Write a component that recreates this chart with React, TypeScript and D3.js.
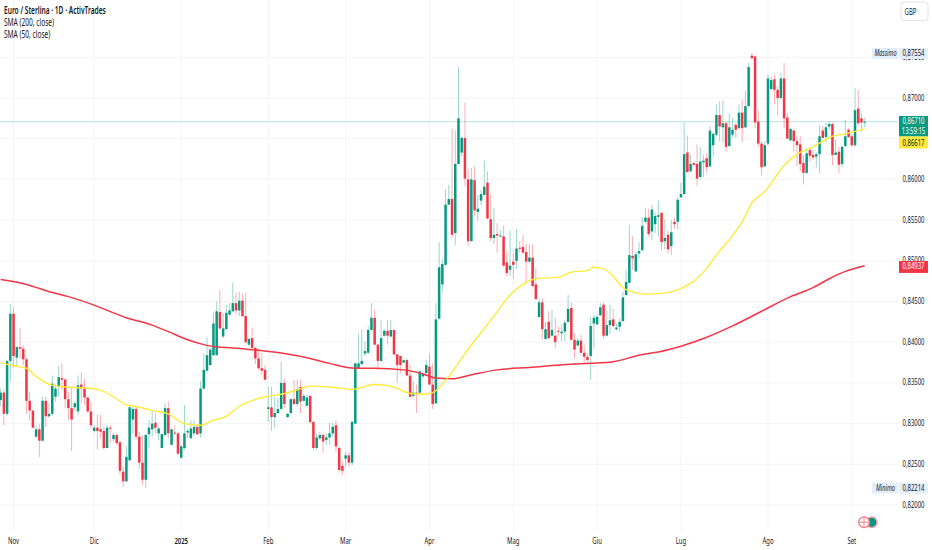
import * as d3 from "d3"

type Bar = [number, number, number, number] // open, high, low, close in pips

const barsOct: Bar[] = [
  [8329,8343,8321,8338],[8338,8342,8298,8312],[8312,8378,8310,8377],[8377,8447,8352,8435],[8435,8443,8369,8383],
  [8381,8395,8370,8394],[8394,8417,8380,8392],[8392,8396,8372,8379],[8379,8381,8312,8328],[8328,8339,8304,8316],
  [8316,8316,8294,8295],[8284,8298,8282,8293],[8293,8300,8259,8279],[8279,8333,8278,8328],[8328,8333,8296,8309],
  [8309,8325,8307,8312],[8312,8359,8310,8349],[8333,8348,8327,8343],[8345,8371,8333,8357],[8356,8374,8341,8354],
  [8354,8356,8319,8330],[8330,8339,8304,8319],[8319,8345,8266,8305],[8320,8327,8315,8325],[8315,8359,8310,8347],
  [8348,8363,8325,8343],[8343,8355,8323,8332],[8332,8333,8313,8315],[8315,8326,8294,8298],
]
const barsDic: Bar[] = [
  [8291,8298,8289,8295],[8295,8311,8268,8291],[8293,8311,8282,8290],[8291,8296,8268,8270],[8270,8298,8270,8295],
  [8295,8298,8276,8294],[8281,8288,8278,8286],[8286,8288,8274,8276],[8277,8280,8237,8242],[8241,8247,8222,8229],
  [8229,8272,8229,8259],[8255,8322,8253,8320],[8305,8321,8288,8318],[8318,8321,8280,8284],[8284,8290,8244,8252],
  [8252,8286,8225,8231],[8231,8288,8221,8286],[8287,8304,8270,8295],[8293,8315,8284,8300],[8301,8313,8288,8295],
  [8288,8296,8280,8294],[8270,8288,8270,8287],[8286,8325,8285,8319],[8319,8327,8282,8288],[8274,8294,8273,8293],
  [8289,8298,8286,8288],[8288,8290,8261,8263],
]
const barsGen: Bar[] = [
  [8258,8274,8257,8272],[8270,8323,8268,8288],[8289,8293,8282,8291],[8282,8304,8281,8294],[8288,8304,8286,8296],
  [8296,8298,8286,8287],[8288,8352,8283,8343],[8343,8386,8342,8366],[8365,8405,8364,8384],[8372,8393,8371,8391],
  [8384,8436,8383,8423],[8384,8450,8384,8438],[8437,8464,8415,8417],[8407,8436,8405,8417],[8416,8446,8416,8436],
  [8434,8448,8432,8439],[8438,8473,8437,8448],[8448,8461,8434,8439],[8439,8462,8432,8451],[8451,8460,8431,8432],
  [8432,8461,8399,8400],[8397,8405,8395,8404],[8405,8418,8391,8393],[8393,8394,8373,8380],[8380,8391,8366,8368],
  [8368,8387,8360,8365],[8366,8372,8353,8354],
]
const barsFeb: Bar[] = [
  [8318,8345,8302,8320],[8320,8345,8291,8308],[8308,8333,8294,8313],[8313,8331,8312,8318],[8318,8376,8317,8350],
  [8350,8355,8319,8324],[8308,8313,8307,8312],[8313,8331,8312,8330],[8330,8354,8323,8324],[8324,8354,8321,8342],
  [8345,8354,8313,8327],[8328,8337,8327,8334],[8322,8335,8321,8332],[8334,8335,8300,8302],[8302,8304,8268,8270],
  [8270,8288,8268,8283],[8282,8290,8280,8286],[8286,8288,8264,8278],[8280,8288,8274,8283],[8283,8301,8274,8288],
  [8288,8301,8284,8296],[8298,8304,8265,8272],[8270,8272,8241,8243],[8248,8253,8237,8242],
]
const barsMar: Bar[] = [
  [8257,8265,8247,8261],[8261,8265,8247,8252],[8252,8304,8249,8302],[8300,8375,8299,8374],[8368,8410,8367,8374],
  [8373,8416,8373,8377],[8386,8401,8383,8389],[8387,8419,8386,8415],[8415,8448,8414,8430],[8430,8440,8396,8397],
  [8397,8398,8366,8377],[8377,8427,8376,8405],[8408,8416,8407,8414],[8414,8427,8397,8408],[8407,8427,8406,8415],
  [8415,8416,8384,8385],[8385,8386,8350,8372],[8383,8383,8362,8372],[8375,8379,8374,8378],[8378,8380,8359,8359],
  [8359,8372,8332,8333],[8334,8352,8332,8338],[8338,8348,8313,8337],[8338,8366,8336,8364],[8358,8362,8356,8361],
  [8362,8378,8361,8372],
]
const barsApr: Bar[] = [
  [8370,8386,8347,8348],[8348,8374,8318,8324],[8325,8448,8324,8428],[8429,8523,8428,8492],[8471,8502,8462,8496],
  [8495,8588,8494,8569],[8569,8593,8569,8576],[8576,8662,8528,8532],[8534,8660,8519,8619],[8619,8738,8618,8675],
  [8633,8653,8628,8651],[8651,8694,8592,8601],[8600,8613,8518,8524],[8524,8614,8524,8600],[8599,8616,8555,8562],
  [8560,8581,8549,8564],[8574,8587,8568,8582],[8581,8623,8580,8591],[8596,8610,8551,8552],[8551,8582,8524,8528],
  [8528,8565,8521,8532],[8533,8546,8510,8531],[8530,8538,8530,8531],[8530,8543,8493,8494],[8498,8511,8481,8485],
  [8489,8537,8481,8494],
]
const barsMag: Bar[] = [
  [8499,8509,8478,8495],[8500,8539,8490,8515],[8516,8524,8510,8515],[8517,8532,8508,8510],[8511,8521,8472,8499],
  [8499,8520,8498,8504],[8504,8521,8468,8469],[8471,8491,8452,8453],[8431,8454,8430,8449],[8449,8454,8403,8416],
  [8404,8425,8403,8416],[8425,8438,8403,8405],[8408,8440,8407,8415],[8408,8430,8393,8400],[8414,8419,8407,8413],
  [8411,8421,8401,8413],[8413,8427,8401,8424],[8425,8458,8424,8441],[8442,8449,8402,8403],[8403,8411,8380,8391],
  [8396,8405,8395,8402],[8402,8409,8386,8387],[8387,8397,8375,8382],[8382,8386,8375,8378],[8383,8431,8354,8420],
  [8423,8434,8392,8430],
]
const barsGiu: Bar[] = [
  [8422,8434,8421,8431],[8433,8448,8432,8443],[8446,8449,8405,8408],[8408,8439,8407,8421],[8421,8446,8410,8427],
  [8428,8441,8418,8420],[8416,8423,8414,8418],[8419,8429,8413,8425],[8426,8462,8425,8455],[8458,8489,8457,8474],
  [8473,8544,8472,8507],[8506,8530,8489,8503],[8487,8511,8486,8508],[8509,8523,8503,8512],[8513,8554,8512,8543],
  [8548,8564,8546,8553],[8553,8564,8530,8533],[8536,8569,8525,8563],[8545,8559,8534,8555],[8554,8574,8530,8556],
  [8559,8559,8513,8523],[8524,8551,8514,8528],[8532,8537,8509,8514],[8518,8550,8507,8535],[8548,8553,8539,8545],
  [8548,8578,8538,8575],
]
const barsLug: Bar[] = [
  [8578,8596,8577,8582],[8582,8670,8581,8631],[8633,8654,8608,8609],[8610,8630,8609,8619],[8620,8622,8616,8618],
  [8619,8643,8592,8601],[8603,8640,8601,8622],[8621,8630,8603,8623],[8626,8632,8608,8615],[8616,8666,8615,8660],
  [8642,8657,8628,8656],[8655,8692,8653,8679],[8679,8696,8647,8665],[8664,8697,8645,8669],[8669,8671,8634,8640],
  [8641,8681,8640,8664],[8655,8675,8651,8661],[8667,8669,8651,8661],[8663,8692,8662,8682],[8682,8698,8646,8663],
  [8664,8709,8663,8690],[8690,8743,8689,8738],[8752,8755,8747,8749],[8751,8752,8663,8670],[8671,8685,8640,8644],
  [8644,8647,8605,8615],[8616,8647,8615,8642],
]
const barsAgo: Bar[] = [
  [8644,8729,8642,8724],[8711,8726,8710,8722],[8723,8729,8692,8710],[8710,8714,8679,8700],[8700,8731,8699,8724],
  [8724,8743,8663,8675],[8676,8681,8650,8650],[8648,8663,8647,8662],[8660,8661,8634,8647],[8647,8653,8616,8642],
  [8643,8653,8610,8619],[8620,8630,8594,8608],[8608,8638,8606,8632],[8636,8640,8622,8629],[8630,8636,8624,8627],
  [8628,8633,8615,8631],[8631,8667,8608,8653],[8660,8666,8651,8651],[8652,8669,8645,8664],[8665,8671,8661,8668],
  [8668,8670,8617,8630],[8630,8649,8630,8633],[8634,8640,8608,8618],[8619,8641,8615,8640],[8641,8673,8640,8653],
  [8661,8663,8651,8652],
]
const barsSet: Bar[] = [
  [8653,8656,8640,8642],[8642,8712,8640,8685],[8687,8710,8666,8669],[8675,8681,8658,8670],[8670,8676,8664,8671],
]

const bars = [...barsOct, ...barsDic, ...barsGen, ...barsFeb, ...barsMar, ...barsApr, ...barsMag, ...barsGiu, ...barsLug, ...barsAgo, ...barsSet]

// sma readings: bar index and value at each point
const sma200Index = [0, 8, 16, 21, 30, 35, 39, 47, 52, 58, 63, 67, 72, 80, 88, 96, 102, 110, 116, 125, 131, 135, 140, 146, 154, 164, 177, 183, 190, 199, 204, 211, 219, 227, 236, 245, 252, 257, 262, 268]
const sma200 = [8477, 8471, 8461, 8456, 8444, 8436, 8430, 8421, 8413, 8403, 8397, 8394, 8393, 8390, 8386, 8380, 8374, 8368, 8368, 8366, 8361, 8356, 8355, 8360, 8366, 8369, 8373, 8374, 8376, 8385, 8388, 8395, 8406, 8420, 8438, 8456, 8467, 8478, 8487, 8494]
const sma50Index = [0, 4, 8, 11, 16, 20, 25, 30, 35, 39, 42, 47, 52, 57, 62, 66, 70, 74, 82, 87, 91, 96, 102, 109, 116, 121, 127, 131, 134, 138, 144, 152, 159, 166, 173, 177, 182, 184, 187, 190, 193, 195, 200, 205, 209, 211, 215, 219, 222, 226, 230, 233, 237, 243, 247, 252, 258, 262, 268]
const sma50 = [8375, 8371, 8368, 8358, 8347, 8345, 8344, 8342, 8333, 8323, 8321, 8316, 8312, 8300, 8298, 8304, 8309, 8321, 8333, 8336, 8340, 8346, 8345, 8342, 8348, 8346, 8337, 8336, 8338, 8353, 8386, 8427, 8462, 8478, 8480, 8486, 8488, 8492, 8490, 8481, 8467, 8463, 8459, 8460, 8463, 8466, 8475, 8491, 8507, 8526, 8548, 8571, 8585, 8617, 8631, 8640, 8653, 8656, 8662]

const monthLabels = ["Nov", "Dic", "2025", "Feb", "Mar", "Apr", "Mag", "Giu", "Lug", "Ago", "Set"]
const monthIndex = [4, 29, 56, 83, 107, 133, 159, 185, 211, 238, 264]
// 0,86500 sits fully behind the yellow sma chip on the original
const priceTicks = d3.range(8200, 8751, 50).filter((p) => p !== 8650)

const GREEN = "#089981"
const RED = "#f23645"
const YELLOW = "#ffeb3b"
const GRID = "#f3f4f6"
const TEXT = "#131722"
const FONT = "'Noto Sans', sans-serif"

const x = d3.scaleLinear().domain([0, 268]).range([0.67, 864.7])
const y = d3.scaleLinear().domain([8200, 8700]).range([505, 98])
const fmt = (p: number) => d3.format(".5f")(p / 10000).replace(".", ",")

const smaLine = (index: number[], values: number[]) =>
  d3
    .line<number>()
    .x((_, i) => x(index[i]))
    .y((d) => y(d))
    .curve(d3.curveMonotoneX)(values) ?? ""

const AXIS_X = 899
const AXIS_W = 29
const AXIS_MID = AXIS_X + 14.5

// the source picture is squeezed sideways, about two thirds of the natural width
function Squeezed({ tx, ty, anchor = "middle", fill = TEXT, size = 9, weight = 400, italic = false, children }: any) {
  return (
    <text
      transform={`translate(${tx},${ty}) scale(0.66,1)`}
      textAnchor={anchor}
      fontSize={size}
      fontWeight={weight}
      fontStyle={italic ? "italic" : "normal"}
      fill={fill}
    >
      {children}
    </text>
  )
}

function Chip({ price, label, fill, color, h = 11 }: { price: number; label?: string; fill: string; color: string; h?: number }) {
  const py = y(price)
  return (
    <g>
      {label && (
        <>
          <rect x={872} y={py - 5} width={26} height={h} fill={fill} />
          <Squeezed tx={885.5} ty={py + 3} size={8.5} italic>
            {label}
          </Squeezed>
        </>
      )}
      <rect x={AXIS_X} y={py - 5} width={AXIS_W} height={h} fill={fill} />
      <Squeezed tx={AXIS_MID} ty={py + 3} fill={color}>
        {fmt(price)}
      </Squeezed>
    </g>
  )
}

export default function App() {
  const closePrice = bars[bars.length - 1][3]
  return (
    <svg width={932} height={550} style={{ position: "absolute", left: 0, top: 0, display: "block" }} fontFamily={FONT}>
      <rect width={932} height={550} fill="#fff" />

      {/* griglia */}
      {d3.range(8200, 8751, 50).map((p) => (
        <line key={p} x1={0} x2={898} y1={y(p)} y2={y(p)} stroke={GRID} />
      ))}
      {monthIndex.map((i) => (
        <line key={i} x1={x(i)} x2={x(i)} y1={0} y2={530} stroke={GRID} />
      ))}

      <line x1={0} x2={898} y1={y(closePrice)} y2={y(closePrice)} stroke={GREEN} strokeOpacity={0.22} strokeWidth={1.3} />

      {/* candele */}
      {bars.map(([o, h, l, c], i) => {
        const color = c >= o ? GREEN : RED
        const top = y(Math.max(o, c))
        const bot = y(Math.min(o, c))
        return (
          <g key={i}>
            <line x1={x(i)} x2={x(i)} y1={y(h)} y2={y(l)} stroke={color} strokeOpacity={0.4} />
            <rect x={x(i) - 1.25} y={top} width={2.5} height={Math.max(bot - top, 1)} fill={color} />
          </g>
        )
      })}

      <path d={smaLine(sma200Index, sma200)} fill="none" stroke={RED} strokeWidth={1.5} />
      <path d={smaLine(sma50Index, sma50)} fill="none" stroke={YELLOW} strokeWidth={1.4} />

      {/* legenda */}
      <Squeezed tx={4} ty={14} anchor="start" size={10} weight={600}>
        Euro / Sterlina · 1D · ActivTrades
      </Squeezed>
      <Squeezed tx={4} ty={26} anchor="start" size={10}>
        SMA (200, close)
      </Squeezed>
      <Squeezed tx={4} ty={37.5} anchor="start" size={10}>
        SMA (50, close)
      </Squeezed>

      {/* asse prezzi */}
      {priceTicks.map((p) => (
        <Squeezed key={p} tx={AXIS_MID} ty={y(p) + 2.5}>
          {fmt(p)}
        </Squeezed>
      ))}
      <rect x={901} y={2} width={27} height={18.5} rx={3} fill="#fff" stroke="#e0e3eb" />
      <Squeezed tx={910.5} ty={15}>
        GBP
      </Squeezed>

      <Chip price={8755.4} label="Massimo" fill="#e3effd" color={TEXT} />
      <Chip price={8221.4} label="Minimo" fill="#e3effd" color={TEXT} />
      <Chip price={8493.7} fill={RED} color="#fff" h={12} />

      <rect x={AXIS_X} y={116} width={AXIS_W} height={20.5} fill={GREEN} />
      <Squeezed tx={AXIS_MID} ty={124} fill="#fff">
        {fmt(closePrice)}
      </Squeezed>
      <Squeezed tx={AXIS_MID} ty={134.3} fill="#fff">
        13:59:15
      </Squeezed>
      <rect x={AXIS_X} y={136.5} width={AXIS_W} height={12} fill={YELLOW} />
      <Squeezed tx={AXIS_MID} ty={145.5}>
        {fmt(8661.7)}
      </Squeezed>

      {/* asse tempo */}
      {monthIndex.map((i, k) => (
        <Squeezed key={i} tx={x(i)} ty={543.5} weight={monthLabels[k] === "2025" ? 600 : 400}>
          {monthLabels[k]}
        </Squeezed>
      ))}

      {/* badge eventi */}
      <circle cx={871.7} cy={522.3} r={5.3} fill={GREEN} stroke="#f7a1a8" strokeWidth={1.4} />
      <circle cx={864} cy={522.3} r={5.3} fill="#fff" stroke="#f7828c" strokeWidth={1.4} />
      <path d="M858.7 522.3H869.3M864 517V527.6" stroke="#f7828c" strokeWidth={1} />
    </svg>
  )
}
